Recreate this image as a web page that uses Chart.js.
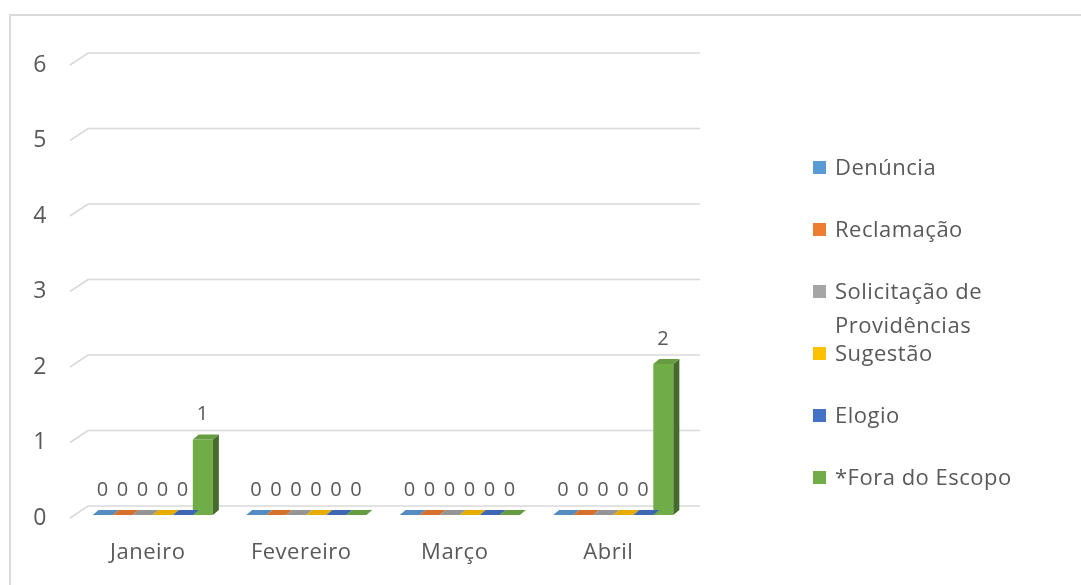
<!DOCTYPE html>
<html>
<head>
<meta charset="utf-8">
<script src="https://cdn.jsdelivr.net/npm/chart.js@4.4.1/dist/chart.umd.min.js"></script>
<style>
  html, body { margin: 0; padding: 0; background: #ffffff; }
  #wrap { position: relative; width: 1081px; height: 585px; }
</style>
</head>
<body>
<div id="wrap"><canvas id="c"></canvas></div>
<script>
// ---- data ----
const categories = ['Janeiro', 'Fevereiro', 'Março', 'Abril'];
const seriesNames = ['Denúncia', 'Reclamação', 'Solicitação de Providências', 'Sugestão', 'Elogio', '*Fora do Escopo'];
const denuncia     = [0, 0, 0, 0];
const reclamacao   = [0, 0, 0, 0];
const solicitacao  = [0, 0, 0, 0];
const sugestao     = [0, 0, 0, 0];
const elogio       = [0, 0, 0, 0];
const foraDoEscopo = [1, 0, 0, 2];
const seriesValues = [denuncia, reclamacao, solicitacao, sugestao, elogio, foraDoEscopo];
const yMin = 0, yMax = 6, yStep = 1;

// ---- styles ----
const seriesColors = ['#5B9BD5', '#ED7D31', '#A5A5A5', '#FFC000', '#4472C4', '#70AD47'];
const FONT = "'Open Sans', sans-serif";
const TEXT = '#595959';
const GRID = '#D9D9D9';
const DX = 6, DY = 5;

function shade(hex, f) {
  const n = parseInt(hex.slice(1), 16);
  const r = Math.round(((n >> 16) & 255) * f), g = Math.round(((n >> 8) & 255) * f), b = Math.round((n & 255) * f);
  return 'rgb(' + Math.min(255, r) + ',' + Math.min(255, g) + ',' + Math.min(255, b) + ')';
}

const threeD = {
  id: 'threeD',
  beforeDraw(chart) {
    const ctx = chart.ctx;
    ctx.letterSpacing = '0.5px';
    ctx.save();
    ctx.strokeStyle = GRID;
    ctx.lineWidth = 2;
    ctx.strokeRect(10, 15, 1300, 900);
    ctx.restore();
  },
  beforeDatasetsDraw(chart) {
    const ctx = chart.ctx, a = chart.chartArea, y = chart.scales.y;
    ctx.save();
    ctx.strokeStyle = GRID;
    ctx.lineWidth = 1.6;
    for (let v = yMin; v <= yMax; v += yStep) {
      const p = y.getPixelForValue(v);
      ctx.beginPath();
      ctx.moveTo(a.left - 6, p + 3);
      ctx.lineTo(a.left + 12, p - 9);
      ctx.lineTo(a.right + 10, p - 9);
      ctx.stroke();
    }
    ctx.restore();
  },
  afterDatasetsDraw(chart) {
    const ctx = chart.ctx;
    ctx.save();
    chart.data.datasets.forEach((ds, i) => {
      const meta = chart.getDatasetMeta(i);
      const col = seriesColors[i];
      meta.data.forEach((el) => {
        const xl = el.x - el.width / 2, xr = el.x + el.width / 2;
        const top = Math.min(el.y, el.base), base = el.base;
        if (base - top > 0.5) {
          ctx.fillStyle = shade(col, 0.62);
          ctx.beginPath();
          ctx.moveTo(xr, top); ctx.lineTo(xr + DX, top - DY);
          ctx.lineTo(xr + DX, base - DY); ctx.lineTo(xr, base);
          ctx.closePath(); ctx.fill();
        }
        ctx.fillStyle = shade(col, 0.9);
        ctx.beginPath();
        ctx.moveTo(xl, top); ctx.lineTo(xl + DX, top - DY);
        ctx.lineTo(xr + DX, top - DY); ctx.lineTo(xr, top);
        ctx.closePath(); ctx.fill();
      });
    });
    ctx.fillStyle = TEXT;
    ctx.font = '20px ' + FONT;
    ctx.textAlign = 'center';
    ctx.textBaseline = 'middle';
    chart.data.datasets.forEach((ds, i) => {
      const meta = chart.getDatasetMeta(i);
      meta.data.forEach((el, j) => {
        ctx.fillText(String(ds.data[j]), el.x, Math.min(el.y, el.base) - 25);
      });
    });
    ctx.restore();
  },
  afterDraw(chart) {
    const ctx = chart.ctx;
    ctx.save();
    ctx.font = '22px ' + FONT;
    ctx.textAlign = 'left';
    ctx.textBaseline = 'alphabetic';
    const maxW = 205;
    chart.data.datasets.forEach((ds, i) => {
      const yb = 175 + 62 * i;
      ctx.fillStyle = seriesColors[i];
      ctx.fillRect(813, yb - 14, 13, 13);
      ctx.fillStyle = TEXT;
      const words = ds.label.split(' ');
      const lines = [];
      let cur = '';
      words.forEach(w => {
        const t = cur ? cur + ' ' + w : w;
        if (ctx.measureText(t).width > maxW && cur) { lines.push(cur); cur = w; } else { cur = t; }
      });
      lines.push(cur);
      lines.forEach((ln, k) => ctx.fillText(ln, 835, yb + 34 * k));
    });
    ctx.restore();
  }
};

new Chart(document.getElementById('c'), {
  type: 'bar',
  data: {
    labels: categories,
    datasets: seriesValues.map((vals, i) => ({
      label: seriesNames[i],
      data: vals,
      backgroundColor: seriesColors[i],
      borderWidth: 0
    }))
  },
  options: {
    responsive: true,
    maintainAspectRatio: false,
    animation: false,
    layout: { padding: { left: 0, right: 391, top: 62, bottom: 0 } },
    plugins: { legend: { display: false }, tooltip: { enabled: false } },
    datasets: { bar: { categoryPercentage: 0.783, barPercentage: 1 } },
    scales: {
      x: {
        grid: { display: false, drawTicks: false },
        border: { display: false },
        ticks: { font: { family: FONT, size: 22 }, color: TEXT, padding: 25, labelOffset: -5, maxRotation: 0, autoSkip: false },
        afterFit(s) { s.height = 70; }
      },
      y: {
        min: yMin, max: yMax,
        grid: { display: false, drawTicks: false },
        border: { display: false },
        ticks: { stepSize: yStep, font: { family: FONT, size: 23 }, color: TEXT, padding: 29, labelOffset: 3 },
        afterFit(s) { s.width = 76; }
      }
    }
  },
  plugins: [threeD]
});
</script>
</body>
</html>
